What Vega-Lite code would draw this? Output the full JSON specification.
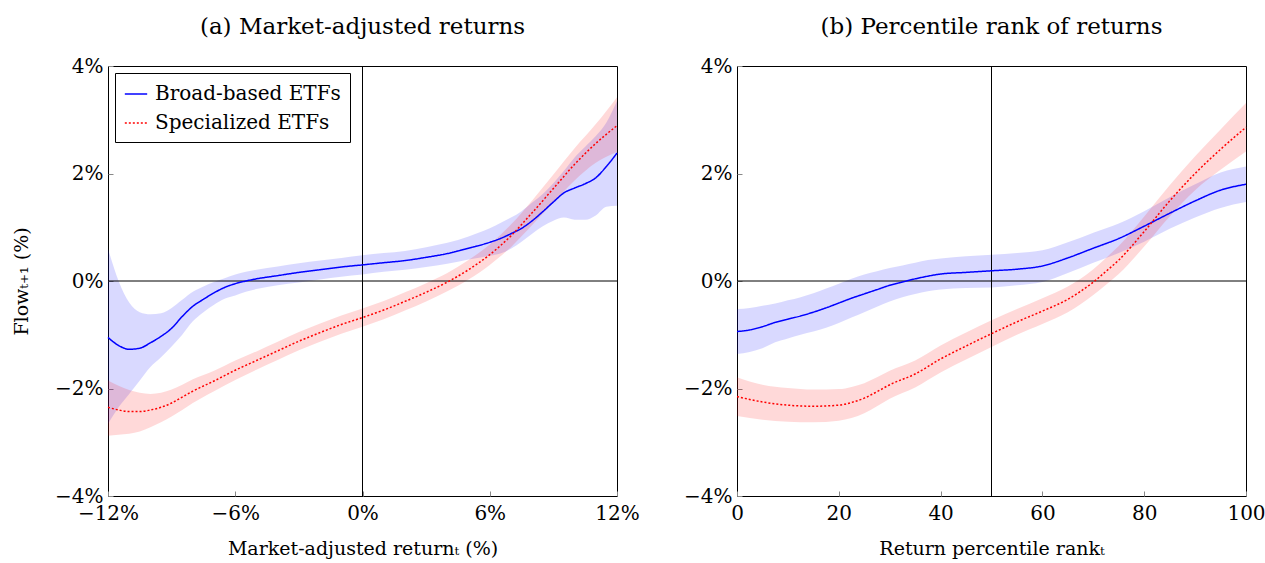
{
  "$schema": "https://vega.github.io/schema/vega-lite/v6.json",
  "padding": {"left": 12, "top": 15, "right": 2, "bottom": 5},
  "spacing": 120,
  "bounds": "flush",
  "config": {
    "font": "DejaVu Serif",
    "view": {"stroke": "black", "strokeWidth": 1},
    "axis": {"grid": false, "domain": false, "tickColor": "#888888", "tickSize": -5, "labelFontSize": 20, "labelColor": "black", "titleFontSize": 19, "titleFontWeight": "normal", "titleColor": "black", "labelFlush": false, "labelOverlap": false, "labelPadding": 10},
    "axisX": {"labelPadding": 12},
    "title": {"fontSize": 23, "fontWeight": "normal", "anchor": "middle", "offset": 17, "color": "black"},
    "legend": {"orient": "top-left", "offset": 7, "strokeColor": "black", "fillColor": "white", "padding": 9, "labelFontSize": 20, "labelFont": "DejaVu Serif", "labelLimit": 0, "symbolSize": 500, "symbolStrokeWidth": 1.5, "rowPadding": 7, "labelOffset": 7, "cornerRadius": 0, "labelColor": "black"}
  },
  "datasets": {
    "a": [
      {"x": -12, "y": -1.05, "lo": -2.66, "hi": 0.6, "series": "Broad-based ETFs"},
      {"x": -11.5, "y": -1.2, "lo": -2.35, "hi": 0.0, "series": "Broad-based ETFs"},
      {"x": -11, "y": -1.27, "lo": -2.1, "hi": -0.4, "series": "Broad-based ETFs"},
      {"x": -10.5, "y": -1.25, "lo": -1.85, "hi": -0.58, "series": "Broad-based ETFs"},
      {"x": -10, "y": -1.15, "lo": -1.6, "hi": -0.62, "series": "Broad-based ETFs"},
      {"x": -9.5, "y": -1.03, "lo": -1.42, "hi": -0.6, "series": "Broad-based ETFs"},
      {"x": -9, "y": -0.88, "lo": -1.22, "hi": -0.5, "series": "Broad-based ETFs"},
      {"x": -8.5, "y": -0.66, "lo": -1.0, "hi": -0.35, "series": "Broad-based ETFs"},
      {"x": -8, "y": -0.47, "lo": -0.75, "hi": -0.2, "series": "Broad-based ETFs"},
      {"x": -7.5, "y": -0.34, "lo": -0.58, "hi": -0.1, "series": "Broad-based ETFs"},
      {"x": -7, "y": -0.22, "lo": -0.44, "hi": -0.02, "series": "Broad-based ETFs"},
      {"x": -6.5, "y": -0.12, "lo": -0.33, "hi": 0.05, "series": "Broad-based ETFs"},
      {"x": -6, "y": -0.05, "lo": -0.27, "hi": 0.12, "series": "Broad-based ETFs"},
      {"x": -5.5, "y": 0.0, "lo": -0.2, "hi": 0.17, "series": "Broad-based ETFs"},
      {"x": -5, "y": 0.04, "lo": -0.15, "hi": 0.21, "series": "Broad-based ETFs"},
      {"x": -4, "y": 0.1, "lo": -0.08, "hi": 0.27, "series": "Broad-based ETFs"},
      {"x": -3, "y": 0.16, "lo": -0.03, "hi": 0.33, "series": "Broad-based ETFs"},
      {"x": -2, "y": 0.21, "lo": 0.03, "hi": 0.38, "series": "Broad-based ETFs"},
      {"x": -1, "y": 0.26, "lo": 0.08, "hi": 0.43, "series": "Broad-based ETFs"},
      {"x": 0, "y": 0.3, "lo": 0.12, "hi": 0.48, "series": "Broad-based ETFs"},
      {"x": 1, "y": 0.34, "lo": 0.17, "hi": 0.52, "series": "Broad-based ETFs"},
      {"x": 2, "y": 0.38, "lo": 0.21, "hi": 0.56, "series": "Broad-based ETFs"},
      {"x": 3, "y": 0.44, "lo": 0.26, "hi": 0.63, "series": "Broad-based ETFs"},
      {"x": 4, "y": 0.51, "lo": 0.32, "hi": 0.71, "series": "Broad-based ETFs"},
      {"x": 5, "y": 0.61, "lo": 0.4, "hi": 0.83, "series": "Broad-based ETFs"},
      {"x": 6, "y": 0.72, "lo": 0.47, "hi": 0.98, "series": "Broad-based ETFs"},
      {"x": 6.5, "y": 0.79, "lo": 0.51, "hi": 1.08, "series": "Broad-based ETFs"},
      {"x": 7, "y": 0.88, "lo": 0.6, "hi": 1.18, "series": "Broad-based ETFs"},
      {"x": 7.5, "y": 0.98, "lo": 0.73, "hi": 1.3, "series": "Broad-based ETFs"},
      {"x": 8, "y": 1.12, "lo": 0.88, "hi": 1.46, "series": "Broad-based ETFs"},
      {"x": 8.5, "y": 1.29, "lo": 1.02, "hi": 1.62, "series": "Broad-based ETFs"},
      {"x": 9, "y": 1.47, "lo": 1.12, "hi": 1.82, "series": "Broad-based ETFs"},
      {"x": 9.5, "y": 1.64, "lo": 1.18, "hi": 2.05, "series": "Broad-based ETFs"},
      {"x": 10, "y": 1.73, "lo": 1.14, "hi": 2.3, "series": "Broad-based ETFs"},
      {"x": 10.5, "y": 1.81, "lo": 1.14, "hi": 2.5, "series": "Broad-based ETFs"},
      {"x": 11, "y": 1.92, "lo": 1.22, "hi": 2.7, "series": "Broad-based ETFs"},
      {"x": 11.5, "y": 2.13, "lo": 1.38, "hi": 2.95, "series": "Broad-based ETFs"},
      {"x": 12, "y": 2.38, "lo": 1.4, "hi": 3.35, "series": "Broad-based ETFs"},
      {"x": -12, "y": -2.35, "lo": -2.88, "hi": -1.85, "series": "Specialized ETFs"},
      {"x": -11.5, "y": -2.4, "lo": -2.86, "hi": -1.95, "series": "Specialized ETFs"},
      {"x": -11, "y": -2.43, "lo": -2.84, "hi": -2.03, "series": "Specialized ETFs"},
      {"x": -10.5, "y": -2.43, "lo": -2.8, "hi": -2.08, "series": "Specialized ETFs"},
      {"x": -10, "y": -2.4, "lo": -2.72, "hi": -2.1, "series": "Specialized ETFs"},
      {"x": -9.5, "y": -2.35, "lo": -2.63, "hi": -2.08, "series": "Specialized ETFs"},
      {"x": -9, "y": -2.27, "lo": -2.52, "hi": -2.02, "series": "Specialized ETFs"},
      {"x": -8.5, "y": -2.16, "lo": -2.4, "hi": -1.93, "series": "Specialized ETFs"},
      {"x": -8, "y": -2.05, "lo": -2.27, "hi": -1.83, "series": "Specialized ETFs"},
      {"x": -7, "y": -1.86, "lo": -2.05, "hi": -1.67, "series": "Specialized ETFs"},
      {"x": -6, "y": -1.66, "lo": -1.84, "hi": -1.48, "series": "Specialized ETFs"},
      {"x": -5, "y": -1.48, "lo": -1.65, "hi": -1.31, "series": "Specialized ETFs"},
      {"x": -4, "y": -1.3, "lo": -1.47, "hi": -1.13, "series": "Specialized ETFs"},
      {"x": -3, "y": -1.12, "lo": -1.29, "hi": -0.95, "series": "Specialized ETFs"},
      {"x": -2, "y": -0.96, "lo": -1.13, "hi": -0.79, "series": "Specialized ETFs"},
      {"x": -1, "y": -0.81, "lo": -0.98, "hi": -0.64, "series": "Specialized ETFs"},
      {"x": 0, "y": -0.68, "lo": -0.85, "hi": -0.51, "series": "Specialized ETFs"},
      {"x": 1, "y": -0.54, "lo": -0.71, "hi": -0.37, "series": "Specialized ETFs"},
      {"x": 2, "y": -0.38, "lo": -0.55, "hi": -0.21, "series": "Specialized ETFs"},
      {"x": 3, "y": -0.21, "lo": -0.38, "hi": -0.04, "series": "Specialized ETFs"},
      {"x": 4, "y": -0.02, "lo": -0.19, "hi": 0.15, "series": "Specialized ETFs"},
      {"x": 5, "y": 0.21, "lo": 0.03, "hi": 0.39, "series": "Specialized ETFs"},
      {"x": 6, "y": 0.49, "lo": 0.3, "hi": 0.68, "series": "Specialized ETFs"},
      {"x": 7, "y": 0.84, "lo": 0.63, "hi": 1.05, "series": "Specialized ETFs"},
      {"x": 8, "y": 1.27, "lo": 1.04, "hi": 1.5, "series": "Specialized ETFs"},
      {"x": 9, "y": 1.72, "lo": 1.46, "hi": 1.98, "series": "Specialized ETFs"},
      {"x": 10, "y": 2.17, "lo": 1.87, "hi": 2.47, "series": "Specialized ETFs"},
      {"x": 11, "y": 2.56, "lo": 2.2, "hi": 2.92, "series": "Specialized ETFs"},
      {"x": 12, "y": 2.89, "lo": 2.4, "hi": 3.42, "series": "Specialized ETFs"}
    ],
    "b": [
      {"x": 0, "y": -0.94, "lo": -1.36, "hi": -0.52, "series": "Broad-based ETFs"},
      {"x": 2.5, "y": -0.91, "lo": -1.32, "hi": -0.5, "series": "Broad-based ETFs"},
      {"x": 5, "y": -0.85, "lo": -1.25, "hi": -0.46, "series": "Broad-based ETFs"},
      {"x": 7.5, "y": -0.77, "lo": -1.14, "hi": -0.42, "series": "Broad-based ETFs"},
      {"x": 10, "y": -0.71, "lo": -1.07, "hi": -0.36, "series": "Broad-based ETFs"},
      {"x": 12.5, "y": -0.65, "lo": -1.0, "hi": -0.3, "series": "Broad-based ETFs"},
      {"x": 15, "y": -0.58, "lo": -0.94, "hi": -0.23, "series": "Broad-based ETFs"},
      {"x": 17.5, "y": -0.5, "lo": -0.87, "hi": -0.14, "series": "Broad-based ETFs"},
      {"x": 20, "y": -0.41, "lo": -0.78, "hi": -0.05, "series": "Broad-based ETFs"},
      {"x": 22.5, "y": -0.32, "lo": -0.68, "hi": 0.04, "series": "Broad-based ETFs"},
      {"x": 25, "y": -0.24, "lo": -0.58, "hi": 0.12, "series": "Broad-based ETFs"},
      {"x": 27.5, "y": -0.16, "lo": -0.48, "hi": 0.18, "series": "Broad-based ETFs"},
      {"x": 30, "y": -0.08, "lo": -0.38, "hi": 0.24, "series": "Broad-based ETFs"},
      {"x": 32.5, "y": -0.02, "lo": -0.3, "hi": 0.29, "series": "Broad-based ETFs"},
      {"x": 35, "y": 0.04, "lo": -0.24, "hi": 0.34, "series": "Broad-based ETFs"},
      {"x": 37.5, "y": 0.09, "lo": -0.19, "hi": 0.39, "series": "Broad-based ETFs"},
      {"x": 40, "y": 0.13, "lo": -0.16, "hi": 0.42, "series": "Broad-based ETFs"},
      {"x": 45, "y": 0.16, "lo": -0.13, "hi": 0.46, "series": "Broad-based ETFs"},
      {"x": 50, "y": 0.19, "lo": -0.12, "hi": 0.49, "series": "Broad-based ETFs"},
      {"x": 55, "y": 0.22, "lo": -0.08, "hi": 0.52, "series": "Broad-based ETFs"},
      {"x": 60, "y": 0.28, "lo": -0.02, "hi": 0.57, "series": "Broad-based ETFs"},
      {"x": 65, "y": 0.43, "lo": 0.15, "hi": 0.72, "series": "Broad-based ETFs"},
      {"x": 70, "y": 0.61, "lo": 0.34, "hi": 0.9, "series": "Broad-based ETFs"},
      {"x": 75, "y": 0.79, "lo": 0.52, "hi": 1.07, "series": "Broad-based ETFs"},
      {"x": 80, "y": 1.02, "lo": 0.73, "hi": 1.3, "series": "Broad-based ETFs"},
      {"x": 85, "y": 1.26, "lo": 0.97, "hi": 1.56, "series": "Broad-based ETFs"},
      {"x": 90, "y": 1.49, "lo": 1.18, "hi": 1.8, "series": "Broad-based ETFs"},
      {"x": 95, "y": 1.69, "lo": 1.36, "hi": 2.02, "series": "Broad-based ETFs"},
      {"x": 100, "y": 1.8, "lo": 1.47, "hi": 2.13, "series": "Broad-based ETFs"},
      {"x": 0, "y": -2.15, "lo": -2.51, "hi": -1.79, "series": "Specialized ETFs"},
      {"x": 5, "y": -2.25, "lo": -2.58, "hi": -1.93, "series": "Specialized ETFs"},
      {"x": 10, "y": -2.31, "lo": -2.62, "hi": -1.99, "series": "Specialized ETFs"},
      {"x": 15, "y": -2.33, "lo": -2.63, "hi": -2.02, "series": "Specialized ETFs"},
      {"x": 20, "y": -2.31, "lo": -2.6, "hi": -2.01, "series": "Specialized ETFs"},
      {"x": 22.5, "y": -2.26, "lo": -2.55, "hi": -1.97, "series": "Specialized ETFs"},
      {"x": 25, "y": -2.18, "lo": -2.46, "hi": -1.9, "series": "Specialized ETFs"},
      {"x": 27.5, "y": -2.06, "lo": -2.33, "hi": -1.79, "series": "Specialized ETFs"},
      {"x": 30, "y": -1.93, "lo": -2.19, "hi": -1.67, "series": "Specialized ETFs"},
      {"x": 35, "y": -1.73, "lo": -1.98, "hi": -1.48, "series": "Specialized ETFs"},
      {"x": 40, "y": -1.45, "lo": -1.7, "hi": -1.2, "series": "Specialized ETFs"},
      {"x": 45, "y": -1.21, "lo": -1.46, "hi": -0.96, "series": "Specialized ETFs"},
      {"x": 50, "y": -0.98, "lo": -1.23, "hi": -0.73, "series": "Specialized ETFs"},
      {"x": 55, "y": -0.76, "lo": -1.0, "hi": -0.52, "series": "Specialized ETFs"},
      {"x": 60, "y": -0.56, "lo": -0.8, "hi": -0.32, "series": "Specialized ETFs"},
      {"x": 65, "y": -0.34, "lo": -0.58, "hi": -0.1, "series": "Specialized ETFs"},
      {"x": 70, "y": -0.02, "lo": -0.26, "hi": 0.22, "series": "Specialized ETFs"},
      {"x": 72.5, "y": 0.18, "lo": -0.07, "hi": 0.43, "series": "Specialized ETFs"},
      {"x": 75, "y": 0.39, "lo": 0.13, "hi": 0.65, "series": "Specialized ETFs"},
      {"x": 80, "y": 0.92, "lo": 0.64, "hi": 1.2, "series": "Specialized ETFs"},
      {"x": 85, "y": 1.49, "lo": 1.2, "hi": 1.78, "series": "Specialized ETFs"},
      {"x": 90, "y": 2.0, "lo": 1.69, "hi": 2.32, "series": "Specialized ETFs"},
      {"x": 95, "y": 2.45, "lo": 2.07, "hi": 2.82, "series": "Specialized ETFs"},
      {"x": 100, "y": 2.86, "lo": 2.41, "hi": 3.31, "series": "Specialized ETFs"}
    ]
  },
  "resolve": {"scale": {"x": "independent", "y": "independent"}, "legend": {"color": "independent", "strokeDash": "independent"}},
  "hconcat": [
    {
      "width": 509,
      "height": 430,
      "title": "(a) Market-adjusted returns",
      "layer": [
        {
          "data": {"name": "a"},
          "mark": {"type": "area", "opacity": 0.15, "interpolate": "monotone"},
          "encoding": {
            "x": {"field": "x", "type": "quantitative", "scale": {"domain": [-12, 12], "nice": false, "zero": false}, "axis": {"values": [-12, -6, 0, 6, 12], "labelExpr": "format(datum.value, 'd') + '%'", "title": "Market-adjusted returnₜ (%)", "titlePadding": 16}},
            "y": {"field": "lo", "type": "quantitative", "scale": {"domain": [-4, 4], "nice": false, "zero": false}, "axis": {"values": [-4, -2, 0, 2, 4], "labelExpr": "format(datum.value, 'd') + '%'", "title": "Flowₜ₊₁ (%)", "titlePadding": 23}},
            "y2": {"field": "hi"},
            "fill": {"field": "series", "type": "nominal", "scale": {"domain": ["Broad-based ETFs", "Specialized ETFs"], "range": ["#0000ff", "#ff0000"]}, "legend": null}
          }
        },
        {
          "data": {"values": [{}]},
          "mark": {"type": "rule", "color": "black", "strokeWidth": 1},
          "encoding": {"y": {"datum": 0, "type": "quantitative"}}
        },
        {
          "data": {"values": [{}]},
          "mark": {"type": "rule", "color": "black", "strokeWidth": 1},
          "encoding": {"x": {"datum": 0, "type": "quantitative"}}
        },
        {
          "data": {"name": "a"},
          "mark": {"type": "line", "interpolate": "monotone", "strokeWidth": 1.5},
          "encoding": {
            "x": {"field": "x", "type": "quantitative"},
            "y": {"field": "y", "type": "quantitative"},
            "color": {"field": "series", "type": "nominal", "scale": {"domain": ["Broad-based ETFs", "Specialized ETFs"], "range": ["#0000ff", "#ff0000"]}, "legend": {"title": null}},
            "strokeDash": {"field": "series", "type": "nominal", "scale": {"domain": ["Broad-based ETFs", "Specialized ETFs"], "range": [[1, 0], [2, 2]]}, "legend": {"title": null}}
          }
        }
      ]
    },
    {
      "width": 509,
      "height": 430,
      "title": "(b) Percentile rank of returns",
      "layer": [
        {
          "data": {"name": "b"},
          "mark": {"type": "area", "opacity": 0.15, "interpolate": "monotone"},
          "encoding": {
            "x": {"field": "x", "type": "quantitative", "scale": {"domain": [0, 100], "nice": false}, "axis": {"values": [0, 20, 40, 60, 80, 100], "title": "Return percentile rankₜ", "titlePadding": 16}},
            "y": {"field": "lo", "type": "quantitative", "scale": {"domain": [-4, 4], "nice": false, "zero": false}, "axis": {"values": [-4, -2, 0, 2, 4], "labelExpr": "format(datum.value, 'd') + '%'", "title": null}},
            "y2": {"field": "hi"},
            "fill": {"field": "series", "type": "nominal", "scale": {"domain": ["Broad-based ETFs", "Specialized ETFs"], "range": ["#0000ff", "#ff0000"]}, "legend": null}
          }
        },
        {
          "data": {"values": [{}]},
          "mark": {"type": "rule", "color": "black", "strokeWidth": 1},
          "encoding": {"y": {"datum": 0, "type": "quantitative"}}
        },
        {
          "data": {"values": [{}]},
          "mark": {"type": "rule", "color": "black", "strokeWidth": 1},
          "encoding": {"x": {"datum": 50, "type": "quantitative"}}
        },
        {
          "data": {"name": "b"},
          "mark": {"type": "line", "interpolate": "monotone", "strokeWidth": 1.5},
          "encoding": {
            "x": {"field": "x", "type": "quantitative"},
            "y": {"field": "y", "type": "quantitative"},
            "color": {"field": "series", "type": "nominal", "scale": {"domain": ["Broad-based ETFs", "Specialized ETFs"], "range": ["#0000ff", "#ff0000"]}, "legend": null},
            "strokeDash": {"field": "series", "type": "nominal", "scale": {"domain": ["Broad-based ETFs", "Specialized ETFs"], "range": [[1, 0], [2, 2]]}, "legend": null}
          }
        }
      ]
    }
  ]
}
